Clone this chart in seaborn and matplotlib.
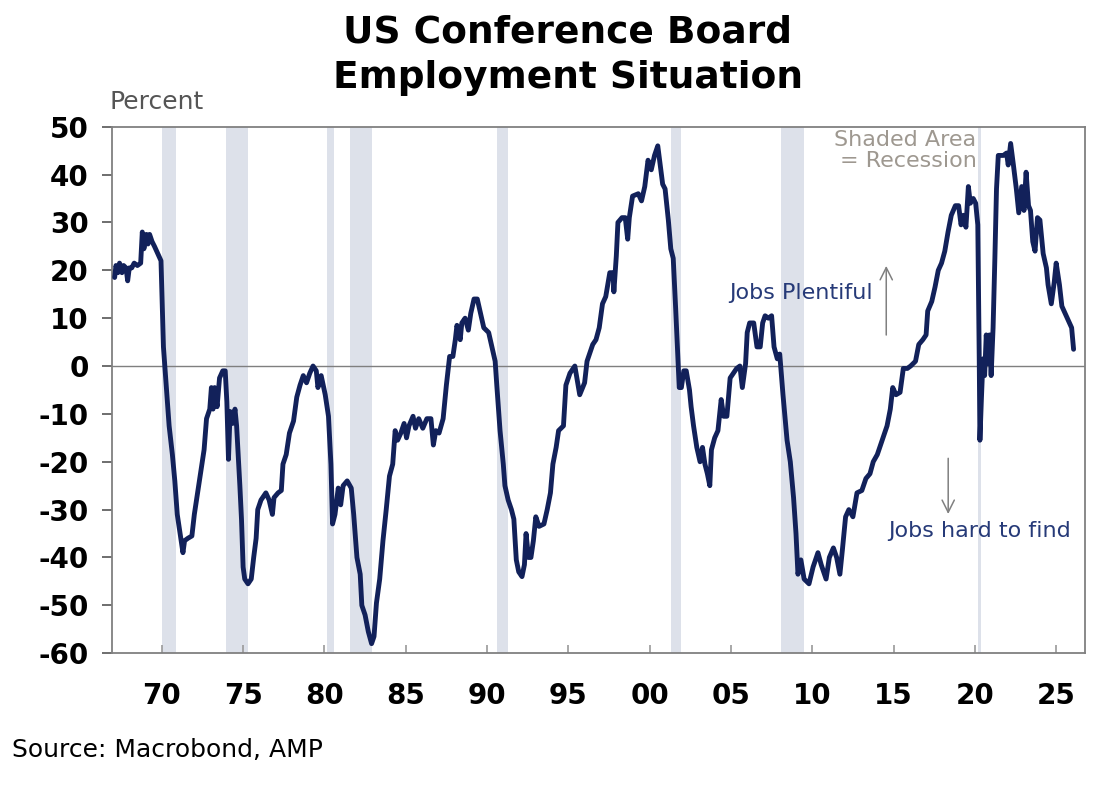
import matplotlib
matplotlib.use('Agg')
import matplotlib.pyplot as plt
import seaborn as sns
import pandas as pd

# Conference Board employment situation (jobs plentiful minus jobs hard to get), %
dates = [
    1967.10, 1967.18, 1967.30, 1967.40, 1967.55, 1967.65, 1967.80, 1967.90, 1968.00, 1968.15,
    1968.30, 1968.50, 1968.70, 1968.80, 1968.90, 1969.05, 1969.15, 1969.25, 1969.40, 1969.55,
    1969.75, 1969.95, 1970.10, 1970.25, 1970.45, 1970.65, 1970.80, 1970.95, 1971.15, 1971.30,
    1971.40, 1971.60, 1971.85, 1972.00, 1972.20, 1972.40, 1972.60, 1972.75, 1972.95, 1973.05,
    1973.15, 1973.25, 1973.40, 1973.55, 1973.75, 1973.90, 1974.00, 1974.10, 1974.20, 1974.35,
    1974.50, 1974.60, 1974.80, 1974.90, 1975.00, 1975.10, 1975.30, 1975.50, 1975.65, 1975.80,
    1975.90, 1976.10, 1976.40, 1976.60, 1976.80, 1976.90, 1977.15, 1977.35, 1977.45, 1977.65,
    1977.85, 1978.10, 1978.30, 1978.50, 1978.70, 1978.90, 1979.10, 1979.30, 1979.50, 1979.60,
    1979.80, 1980.05, 1980.25, 1980.40, 1980.50, 1980.65, 1980.85, 1981.00, 1981.15, 1981.40,
    1981.65, 1981.80, 1982.00, 1982.20, 1982.30, 1982.50, 1982.70, 1982.90, 1983.05, 1983.20,
    1983.40, 1983.60, 1983.80, 1984.00, 1984.20, 1984.35, 1984.50, 1984.70, 1984.90, 1985.05,
    1985.20, 1985.45, 1985.60, 1985.80, 1986.05, 1986.30, 1986.55, 1986.70, 1986.85, 1987.05,
    1987.30, 1987.50, 1987.70, 1987.90, 1988.05, 1988.15, 1988.35, 1988.45, 1988.65, 1988.85,
    1989.00, 1989.20, 1989.40, 1989.60, 1989.80, 1990.10, 1990.30, 1990.50, 1990.60, 1990.80,
    1991.00, 1991.10, 1991.30, 1991.50, 1991.65, 1991.80, 1991.95, 1992.15, 1992.30, 1992.40,
    1992.55, 1992.70, 1992.85, 1993.00, 1993.20, 1993.50, 1993.70, 1993.90, 1994.05, 1994.25,
    1994.40, 1994.70, 1994.85, 1995.10, 1995.40, 1995.60, 1995.70, 1996.00, 1996.15, 1996.30,
    1996.50, 1996.70, 1996.90, 1997.10, 1997.30, 1997.55, 1997.75, 1997.80, 1997.95, 1998.05,
    1998.30, 1998.50, 1998.65, 1998.75, 1998.95, 1999.30, 1999.50, 1999.70, 1999.90, 2000.10,
    2000.30, 2000.50, 2000.65, 2000.80, 2000.95, 2001.15, 2001.30, 2001.45, 2001.60, 2001.75,
    2001.82, 2001.95, 2002.10, 2002.25, 2002.45, 2002.55, 2002.70, 2002.90, 2003.10, 2003.25,
    2003.40, 2003.55, 2003.70, 2003.80, 2004.00, 2004.20, 2004.40, 2004.55, 2004.75, 2004.95,
    2005.15, 2005.35, 2005.55, 2005.70, 2005.90, 2006.00, 2006.15, 2006.40, 2006.60, 2006.80,
    2006.95, 2007.10, 2007.30, 2007.50, 2007.65, 2007.85, 2008.00, 2008.20, 2008.45, 2008.65,
    2008.85, 2009.00, 2009.12, 2009.30, 2009.50, 2009.80, 2010.05, 2010.35, 2010.55, 2010.85,
    2011.05, 2011.30, 2011.50, 2011.70, 2011.85, 2012.05, 2012.25, 2012.50, 2012.75, 2013.05,
    2013.30, 2013.55, 2013.75, 2014.00, 2014.30, 2014.60, 2014.80, 2014.95, 2015.15, 2015.40,
    2015.60, 2015.85, 2016.05, 2016.35, 2016.55, 2016.80, 2017.00, 2017.10, 2017.35, 2017.55,
    2017.75, 2017.95, 2018.15, 2018.35, 2018.55, 2018.80, 2019.00, 2019.15, 2019.30, 2019.45,
    2019.60, 2019.72, 2019.90, 2020.05, 2020.18, 2020.27, 2020.31, 2020.40, 2020.50, 2020.60,
    2020.70, 2020.80, 2020.90, 2021.00, 2021.12, 2021.23, 2021.33, 2021.44, 2021.75, 2021.95,
    2022.05, 2022.20, 2022.37, 2022.55, 2022.70, 2022.88, 2023.02, 2023.15, 2023.30, 2023.42,
    2023.56, 2023.70, 2023.85, 2024.00, 2024.20, 2024.40, 2024.50, 2024.70, 2024.88, 2025.00,
    2025.20, 2025.35, 2025.55, 2025.75, 2025.95, 2026.07,
]
values = [
    18.5, 21.0, 19.5, 21.5, 19.5, 21.0, 20.5, 17.8, 20.5, 20.5,
    21.5, 21.0, 21.5, 28.0, 24.5, 27.5, 25.5, 27.5, 26.0, 25.0,
    23.5, 22.0, 4.0, -3.0, -12.5, -18.5, -24.0, -31.0, -35.5, -39.0,
    -36.5, -36.0, -35.5, -31.0, -26.5, -22.0, -17.5, -11.0, -9.0, -4.5,
    -9.0, -4.5, -8.5, -2.5, -1.0, -1.0, -7.5, -19.5, -9.5, -12.0,
    -9.0, -12.5, -25.0, -32.0, -42.0, -44.5, -45.5, -44.5, -40.0, -36.0,
    -30.0, -28.0, -26.5, -28.0, -31.0, -27.5, -26.5, -26.0, -20.5, -18.5,
    -14.0, -11.5, -6.5, -4.0, -2.0, -3.5, -1.5, 0.0, -1.0, -4.5,
    -2.0, -6.0, -10.5, -20.5, -33.0, -31.0, -25.5, -29.0, -25.0, -24.0,
    -25.5, -31.0, -40.0, -43.5, -50.0, -52.0, -55.5, -58.0, -56.5, -49.5,
    -44.5, -36.5, -30.0, -23.0, -20.5, -13.5, -15.5, -14.0, -12.0, -15.0,
    -12.5, -10.5, -13.0, -11.0, -13.0, -11.0, -11.0, -16.5, -13.5, -14.0,
    -11.0, -4.0, 2.0, 2.0, 5.5, 8.5, 5.5, 9.0, 10.0, 7.5,
    11.0, 14.0, 14.0, 11.0, 8.0, 7.0, 4.0, 1.0, -4.0, -13.5,
    -20.5, -25.0, -28.0, -30.0, -32.0, -40.5, -43.0, -44.0, -41.5, -35.0,
    -40.0, -40.0, -36.5, -31.5, -33.5, -33.0, -30.0, -26.5, -20.5, -17.0,
    -13.5, -12.5, -4.0, -1.5, 0.0, -4.0, -6.0, -3.5, 1.0, 2.5,
    4.5, 5.5, 8.0, 13.0, 14.5, 19.5, 19.5, 15.5, 23.0, 30.0,
    31.0, 31.0, 26.5, 31.0, 35.5, 36.0, 34.5, 37.5, 43.0, 41.0,
    44.0, 46.0, 42.0, 38.0, 37.0, 30.5, 24.5, 22.5, 12.0, 1.0,
    -4.5, -4.5, -1.0, -1.0, -5.0, -8.5, -12.5, -17.0, -20.0, -17.0,
    -20.5, -22.5, -25.0, -17.5, -15.0, -13.5, -7.0, -10.5, -10.5, -2.5,
    -1.5, -0.5, 0.0, -4.5, 0.5, 7.0, 9.0, 9.0, 4.0, 4.0,
    9.0, 10.5, 10.0, 10.5, 4.0, 1.5, 2.5, -6.0, -15.5, -20.0,
    -27.5, -35.0, -43.5, -40.5, -44.5, -45.5, -42.0, -39.0, -41.5, -44.5,
    -40.0, -38.0, -40.0, -43.5, -38.5, -31.5, -30.0, -31.5, -26.5, -26.0,
    -23.5, -22.5, -20.0, -18.5, -15.5, -12.5, -9.0, -4.5, -6.0, -5.5,
    -0.5, -0.5, 0.0, 1.0, 4.5, 5.5, 6.5, 11.5, 13.5, 16.5,
    20.0, 21.5, 24.0, 28.0, 31.5, 33.5, 33.5, 29.5, 31.5, 29.0,
    37.5, 34.0, 35.0, 34.0, 29.5, 1.0, -15.5, -7.0, 1.5, -2.0,
    6.5, 0.5, 6.5, -2.0, 8.0, 22.5, 37.0, 44.0, 44.0, 44.5,
    42.0, 46.5, 42.0, 37.0, 32.0, 37.5, 32.5, 40.5, 33.5, 32.5,
    26.0, 24.0, 31.0, 30.5, 23.5, 20.5, 17.0, 13.0, 17.5, 21.5,
    17.0, 12.5, 11.0, 9.5, 8.0, 3.5,
]

# NBER recessions (decimal years)
rec_start = [1970.0, 1973.95, 1980.15, 1981.6, 1990.6, 2001.3, 2008.05, 2020.2]
rec_end = [1970.9, 1975.3, 1980.6, 1982.9, 1991.3, 2001.9, 2009.5, 2020.4]

xtick_pos = [1970, 1975, 1980, 1985, 1990, 1995, 2000, 2005, 2010, 2015, 2020, 2025]
xtick_labels = ['70', '75', '80', '85', '90', '95', '00', '05', '10', '15', '20', '25']
ytick_pos = [50, 40, 30, 20, 10, 0, -10, -20, -30, -40, -50, -60]

df = pd.DataFrame({'year': dates, 'pct': values})

sns.set_style('white')
plt.rcParams['font.family'] = ['DejaVu Sans']
plt.rcParams['axes.unicode_minus'] = False

fig = plt.figure(figsize=(11.11, 7.87), dpi=100)
ax = fig.add_axes([0.101, 0.170, 0.876, 0.669])

for s, e in zip(rec_start, rec_end):
    ax.axvspan(s, e, color='#dde1ea', lw=0, zorder=0)

ax.axhline(0, color='#7f7f7f', lw=1.0, zorder=1)
sns.lineplot(data=df, x='year', y='pct', ax=ax, color='#12215a', lw=3.5, zorder=3)

ax.set_xlim(1966.95, 2026.8)
ax.set_ylim(-60, 50)
ax.set_xticks(xtick_pos)
ax.set_xticklabels(xtick_labels)
ax.set_yticks(ytick_pos)
ax.set_xlabel('')
ax.set_ylabel('')

for sp in ax.spines.values():
    sp.set_color('#808080')
    sp.set_linewidth(1.3)

ax.tick_params(axis='y', direction='out', length=7, width=1.2, color='#555555',
               labelsize=20, pad=10, left=True)
ax.tick_params(axis='x', direction='in', length=6, width=1.2, color='#9a9a9a',
               labelsize=20, pad=21, bottom=True)
for lab in ax.get_xticklabels() + ax.get_yticklabels():
    lab.set_fontweight('bold')
    lab.set_color('black')

# annotations
ax.text(2020.1, 45.1, 'Shaded Area\n= Recession', ha='right', va='center',
        fontsize=16, color='#9e9890', multialignment='right', linespacing=1.05)
ax.text(2013.75, 15.3, 'Jobs Plentiful', ha='right', va='center', fontsize=16, color='#263a78')
ax.text(2020.3, -34.4, 'Jobs hard to find', ha='center', va='center', fontsize=16, color='#263a78')
ax.annotate('', xy=(2014.55, 21.5), xytext=(2014.55, 5.9),
            arrowprops=dict(arrowstyle='->', color='#808080', lw=1.1, mutation_scale=22))
ax.annotate('', xy=(2018.36, -31.5), xytext=(2018.36, -18.7),
            arrowprops=dict(arrowstyle='->', color='#808080', lw=1.1, mutation_scale=22))

fig.text(0.511, 0.9454, 'US Conference Board', ha='center', va='baseline',
         fontsize=27, fontweight='bold', color='black')
fig.text(0.511, 0.8882, 'Employment Situation', ha='center', va='baseline',
         fontsize=27, fontweight='bold', color='black')
fig.text(0.099, 0.871, 'Percent', ha='left', va='center', fontsize=18, color='#555555')
fig.text(0.011, 0.047, 'Source: Macrobond, AMP', ha='left', va='center', fontsize=18, color='black')

fig.savefig('out.png', dpi=100)
